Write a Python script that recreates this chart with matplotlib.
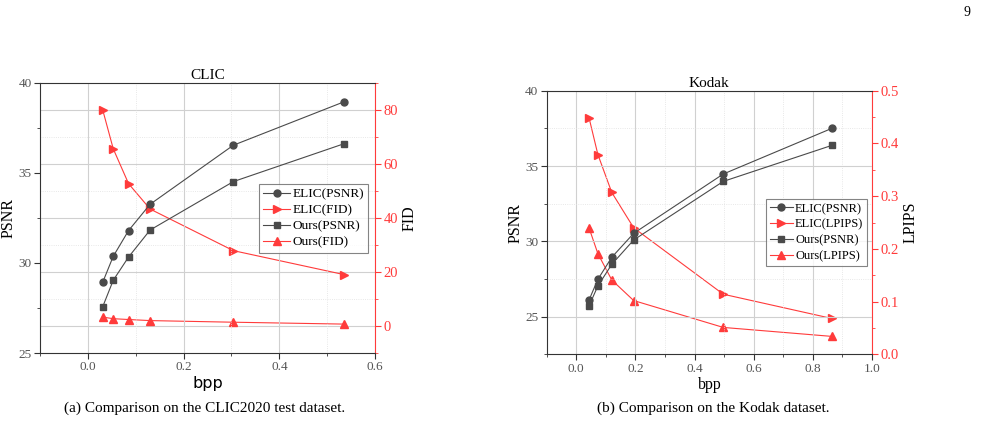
import matplotlib
matplotlib.use('Agg')
import matplotlib.pyplot as plt
from matplotlib.ticker import MultipleLocator

plt.rcParams['font.family'] = ['Liberation Serif', 'DejaVu Serif']

# CLIC data
clic_bpp = [0.031, 0.053, 0.085, 0.130, 0.304, 0.536]
clic_elic_psnr = [28.93, 30.37, 31.80, 33.26, 36.54, 38.96]
clic_ours_psnr = [27.57, 29.04, 30.33, 31.83, 34.52, 36.63]
clic_elic_fid = [80.0, 65.6, 52.7, 43.3, 27.9, 19.0]
clic_ours_fid = [3.3, 2.7, 2.4, 2.0, 1.4, 0.7]

# Kodak data
kodak_bpp = [0.043, 0.073, 0.120, 0.194, 0.497, 0.864]
kodak_elic_psnr = [26.1, 27.48, 28.94, 30.53, 34.47, 37.5]
kodak_ours_psnr = [25.71, 27.04, 28.47, 30.09, 33.98, 36.37]
kodak_elic_lpips = [0.449, 0.379, 0.307, 0.240, 0.114, 0.068]
kodak_ours_lpips = [0.240, 0.191, 0.141, 0.102, 0.051, 0.034]

gray = '#4a4a4a'
red = '#ff3b3b'
tickgray = '#555555'

fig = plt.figure(figsize=(9.81, 4.22), dpi=100)


def make_panel(rect, bpp, ep, op, em, om, xlim, xmaj, ylim, ymaj, rlim, rmaj,
               rlabel, title, xlab_font, grid_from_right, leg_anchor, leg_fs, leg_hl):
    ax = fig.add_axes(rect)
    ax2 = ax.twinx()
    ax.set_zorder(ax2.get_zorder() + 1)
    ax.patch.set_visible(False)

    l1, = ax.plot(bpp, ep, '-o', color=gray, lw=0.8, ms=5, label='ELIC(PSNR)')
    l3, = ax.plot(bpp, op, '-s', color=gray, lw=0.8, ms=4.8, label='Ours(PSNR)')
    l2, = ax2.plot(bpp, em, '->', color=red, lw=0.8, ms=5.5, label='ELIC(%s)' % rlabel)
    l4, = ax2.plot(bpp, om, '-^', color=red, lw=0.8, ms=5.5, label='Ours(%s)' % rlabel)

    ax.set_xlim(*xlim)
    ax.set_ylim(*ylim)
    ax2.set_ylim(*rlim)
    ax.xaxis.set_major_locator(MultipleLocator(xmaj))
    ax.xaxis.set_minor_locator(MultipleLocator(xmaj / 2))
    ax.yaxis.set_major_locator(MultipleLocator(ymaj))
    ax.yaxis.set_minor_locator(MultipleLocator(ymaj / 2))
    ax2.yaxis.set_major_locator(MultipleLocator(rmaj))
    ax2.yaxis.set_minor_locator(MultipleLocator(rmaj / 2))

    ax.tick_params(which='both', direction='out', colors='#333333', labelcolor=tickgray,
                   labelsize=9.5, pad=2)
    ax.tick_params(which='major', length=4)
    ax.tick_params(which='minor', length=2.5)
    ax2.tick_params(which='both', direction='out', colors=red, labelcolor=red,
                    labelsize=10.5, pad=2)
    ax2.tick_params(which='major', length=4)
    ax2.tick_params(which='minor', length=2.5)

    for s in ['left', 'bottom', 'top']:
        ax.spines[s].set_color('#333333')
    ax.spines['right'].set_visible(False)
    ax2.spines['right'].set_color(red)
    ax2.spines['left'].set_visible(False)
    ax2.spines['top'].set_visible(False)
    ax2.spines['bottom'].set_visible(False)

    ax.grid(True, axis='x', which='major', color='#d0d0d0', lw=0.8)
    ax.grid(True, axis='x', which='minor', color='#e0e0e0', lw=0.6, ls=':')
    gax = ax2 if grid_from_right else ax
    gax.grid(True, axis='y', which='major', color='#d0d0d0', lw=0.8)
    gax.grid(True, axis='y', which='minor', color='#e0e0e0', lw=0.6, ls=':')
    ax2.set_axisbelow(True)

    ax.set_title(title, fontsize=11, pad=3)
    ax.set_ylabel('PSNR', fontsize=11.5, labelpad=1)
    ax2.set_ylabel(rlabel, fontsize=11.5, color='black', labelpad=3)
    if xlab_font == 'sans':
        ax.set_xlabel('bpp', fontsize=11.5, family='DejaVu Sans', labelpad=2)
    else:
        ax.set_xlabel('bpp', fontsize=11.5, labelpad=2)

    leg = ax.legend([l1, l2, l3, l4], [l.get_label() for l in [l1, l2, l3, l4]],
                    loc='upper right', bbox_to_anchor=leg_anchor, fontsize=leg_fs,
                    frameon=True, fancybox=False, edgecolor='#666666',
                    handlelength=leg_hl, handletextpad=0.2, borderpad=0.3,
                    labelspacing=0.3, borderaxespad=0.0)
    leg.get_frame().set_linewidth(0.8)
    return ax


make_panel([0.0408, 0.1635, 0.3415, 0.640], clic_bpp, clic_elic_psnr, clic_ours_psnr,
           clic_elic_fid, clic_ours_fid, (-0.1, 0.6), 0.2, (25, 40), 5, (-10, 90), 20,
           'FID', 'CLIC', 'sans', True, (0.979, 0.626), 9.5, 2.0)

make_panel([0.5573, 0.1604, 0.3316, 0.6246], kodak_bpp, kodak_elic_psnr, kodak_ours_psnr,
           kodak_elic_lpips, kodak_ours_lpips, (-0.1, 1.0), 0.2, (22.5, 40), 5, (0, 0.5), 0.1,
           'LPIPS', 'Kodak', 'serif', False, (0.985, 0.589), 9, 1.8)

fig.text(0.209, 0.033, '(a) Comparison on the CLIC2020 test dataset.', ha='center',
         va='center', fontsize=11)
fig.text(0.727, 0.033, '(b) Comparison on the Kodak dataset.', ha='center',
         va='center', fontsize=11)
fig.text(0.989, 0.97, '9', ha='right', va='center', fontsize=10)

fig.savefig('out.png', dpi=100)
